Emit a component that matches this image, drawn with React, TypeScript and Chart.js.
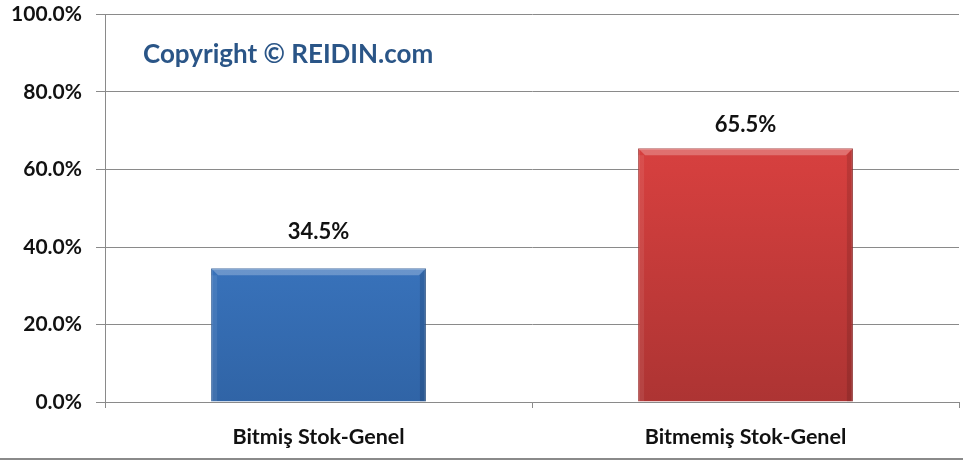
import React, { useEffect, useRef } from "react";
import { Chart, registerables } from "chart.js";

Chart.register(...registerables);

const categories = ["Bitmiş Stok-Genel", "Bitmemiş Stok-Genel"];
const shares = [34.5, 65.5];
const yMin = 0;
const yMax = 100;
const yStep = 20;
const copyrightText = "Copyright © REIDIN.com";

const FONT = "Lato, 'Open Sans', sans-serif";
const LABEL_GAPS = [36, 23];
const gradStops = [
  ["#4c8cda", "#3e7cc9", "#3064a6"],
  ["#e34a48", "#d43f3e", "#ad3433"],
];

const overlayPlugin = {
  id: "overlay",
  beforeDatasetsDraw(chart: any) {
    const ctx = chart.ctx;
    ctx.save();
    ctx.font = `bold 26px ${FONT}`;
    ctx.fillStyle = "#2a5587";
    ctx.textBaseline = "middle";
    ctx.textAlign = "left";
    ctx.fillText(copyrightText, 143, 55);
    ctx.restore();
  },
  afterDatasetsDraw(chart: any) {
    const ctx = chart.ctx;
    const meta = chart.getDatasetMeta(0);
    ctx.save();
    meta.data.forEach((bar: any, i: number) => {
      const w = bar.width;
      const left = bar.x - w / 2;
      const top = bar.y;
      const bottom = bar.base;
      ctx.fillStyle = "rgba(255,255,255,0.25)";
      ctx.beginPath();
      ctx.moveTo(left, top);
      ctx.lineTo(left + w, top);
      ctx.lineTo(left + w - 7, top + 7);
      ctx.lineTo(left + 7, top + 7);
      ctx.closePath();
      ctx.fill();
      ctx.fillStyle = "rgba(0,0,0,0.12)";
      ctx.beginPath();
      ctx.moveTo(left + w, top);
      ctx.lineTo(left + w, bottom);
      ctx.lineTo(left + w - 6, bottom);
      ctx.lineTo(left + w - 6, top + 7);
      ctx.closePath();
      ctx.fill();
      ctx.fillStyle = "rgba(255,255,255,0.08)";
      ctx.fillRect(left, top + 7, 6, bottom - top - 7);
      ctx.font = `bold 22px ${FONT}`;
      ctx.fillStyle = "#111";
      ctx.textAlign = "center";
      ctx.textBaseline = "middle";
      ctx.fillText(shares[i].toFixed(1) + "%", bar.x, bar.y - LABEL_GAPS[i % LABEL_GAPS.length]);
    });
    ctx.restore();
  },
  afterDraw(chart: any) {
    const ctx = chart.ctx;
    ctx.save();
    ctx.strokeStyle = "#8a8a8a";
    ctx.lineWidth = 2;
    ctx.beginPath();
    ctx.moveTo(0, 459);
    ctx.lineTo(963, 459);
    ctx.stroke();
    ctx.restore();
  },
};

export default function App() {
  const ref = useRef<HTMLCanvasElement>(null);
  useEffect(() => {
    if (!ref.current) return;
    const chart = new Chart(ref.current, {
      type: "bar",
      data: {
        labels: categories,
        datasets: [
          {
            data: shares,
            backgroundColor: (c: any) => {
              const area = c.chart.chartArea;
              const stops = gradStops[c.dataIndex % 2];
              if (!area) return stops[1];
              const el = c.chart.getDatasetMeta(0).data[c.dataIndex];
              const top = el && el.y != null ? el.y : area.top;
              const g = c.chart.ctx.createLinearGradient(0, top, 0, area.bottom);
              g.addColorStop(0, stops[0]);
              g.addColorStop(0.4, stops[1]);
              g.addColorStop(1, stops[2]);
              return g;
            },
            borderColor: ["#2c5a95", "#9e2f2e"],
            borderWidth: 1,
            categoryPercentage: 1,
            barPercentage: 0.503,
          },
        ],
      },
      options: {
        animation: false,
        responsive: true,
        maintainAspectRatio: false,
        layout: { padding: { top: 14.5, right: 4, left: 0, bottom: 0 } },
        plugins: { legend: { display: false }, tooltip: { enabled: false } },
        scales: {
          x: {
            grid: {
              drawOnChartArea: false,
              drawTicks: true,
              tickLength: 6,
              color: "#8a8a8a",
              offset: true,
            },
            border: { display: true, color: "#8a8a8a" },
            ticks: {
              color: "#111",
              font: { family: FONT, size: 21.5, weight: "bold" },
              padding: 16,
            },
            afterFit: (s: any) => {
              s.height = 60;
              s.paddingLeft = 0;
              s.paddingRight = 0;
            },
          },
          y: {
            min: yMin,
            max: yMax,
            grid: { color: "#8a8a8a", tickLength: 9 },
            border: { display: true, color: "#8a8a8a" },
            ticks: {
              stepSize: yStep,
              color: "#111",
              font: { family: FONT, size: 21, weight: "bold" },
              padding: 14,
              callback: (v: any) => Number(v).toFixed(1) + "%",
            },
            afterFit: (s: any) => {
              s.width = 105;
              s.paddingTop = 0;
              s.paddingBottom = 0;
            },
          },
        },
      },
      plugins: [overlayPlugin],
    });
    return () => chart.destroy();
  }, []);
  return (
    <div style={{ position: "absolute", left: 0, top: 0, width: 963, height: 462, background: "#fff" }}>
      <canvas ref={ref} />
    </div>
  );
}
